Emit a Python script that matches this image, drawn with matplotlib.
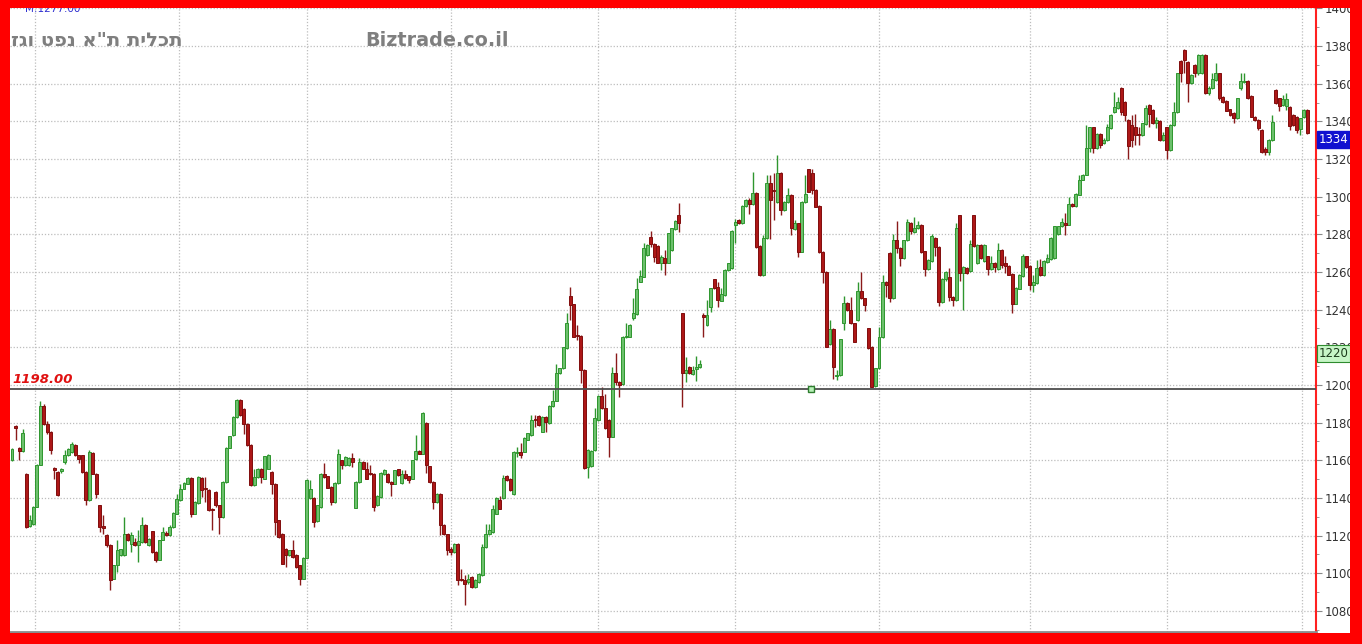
import numpy as np
import matplotlib
matplotlib.use("Agg")
import matplotlib.pyplot as plt
from matplotlib.patches import Rectangle

# OHLC, oldest first (one entry per candle)
opens = [
    1160, 1178, 1166.7, 1164.8, 1152.7, 1124.9, 1126, 1135.2, 1157.7, 1188.7,
    1179.5, 1175, 1156, 1154, 1154.3, 1159.1, 1162.7, 1164.4, 1168, 1162.7,
    1162.7, 1153.8, 1138.8, 1163.9, 1152.9, 1136.1, 1125, 1120.2, 1114.9, 1097.2,
    1104.2, 1109.6, 1109.6, 1121.1, 1115.8, 1116.6, 1114.9, 1116.6, 1125.8, 1114.9,
    1122.3, 1111.3, 1107.3, 1117.9, 1121.6, 1120.2, 1124.6, 1131.7, 1138.8, 1145,
    1147.6, 1150.8, 1131.7, 1137.2, 1150.8, 1145.5, 1144.1, 1134.3, 1143.2, 1136.1,
    1129.9, 1148.5, 1166.7, 1173.3, 1183, 1192.2, 1187.4, 1179.5, 1168, 1146.7,
    1151.1, 1155.6, 1150.3, 1155.6, 1153.8, 1147.3, 1128.1, 1121, 1113.1, 1109.6,
    1112.2, 1109.6, 1104.2,
    1097.2, 1108.3, 1140, 1140, 1127.8, 1135.2, 1152.9,
    1151.5, 1145.8, 1137.9, 1148, 1160, 1157.3, 1157.3, 1161.2, 1134.9, 1148.5,
    1159.1, 1155.6, 1153.2, 1152.9, 1136.1, 1140.5, 1152.6, 1152.9, 1148.5, 1147.6,
    1155.2, 1148, 1152.9, 1151.5, 1150.3, 1160.5, 1164.8, 1163.5, 1180, 1156.8,
    1148.5, 1137.9, 1142.3, 1125.5, 1120.7, 1113.1, 1111.3, 1115.8, 1097.2, 1096.3,
    1095.4, 1098.1, 1092.8, 1095.4, 1098.9, 1114, 1120.7, 1121.9, 1131.7, 1138.8,
    1140, 1151.5, 1150, 1142, 1163.8, 1164.6, 1164.6, 1171, 1173.4, 1181.6,
    1183.7, 1175.2, 1183.2, 1179.6, 1188.8, 1191.7, 1206.2, 1208.8, 1219.5, 1247.3,
    1242.8, 1226.5, 1226.2, 1208, 1156.6, 1157, 1165.5, 1181.4, 1194.2, 1187.6,
    1181.4, 1172.6, 1206.2, 1201.8, 1200.5, 1225.6, 1225.7, 1235.4, 1237.7, 1254.9,
    1257.5, 1269, 1278.8, 1274.9, 1273.8, 1265, 1267.3, 1265, 1271.7, 1282.7,
    1290.3, 1238, 1206.2, 1209.7, 1205.8, 1208.3, 1209.7,
    1236.8, 1231.9, 1241.6,
    1256.1, 1252.2, 1244.8, 1247.8, 1261, 1262, 1285, 1287.6, 1285.8, 1295,
    1298.2, 1296.1, 1302.1, 1273.8, 1258.4, 1277.9, 1307.1, 1303.5, 1297.3, 1312.7,
    1292.9, 1297.3, 1300.9, 1282.7, 1285.8, 1270.8, 1297.3, 1314.5, 1312.7, 1303.5,
    1295, 1270.8, 1260.2, 1221.8, 1229.6, 1204.5, 1205.3, 1232.7, 1243.7, 1239.8,
    1232.7, 1234.5, 1250.1, 1246, 1230.1, 1220.4, 1199.3, 1208.8, 1225.3, 1254.9,
    1270.1, 1246.2,
    1276.8, 1272.7, 1267.4, 1276.8, 1286, 1281.1, 1283.4, 1285.1,
    1271, 1261.6, 1265.7, 1278, 1273.3, 1243.9, 1256.3, 1257.3, 1246.7, 1245,
    1290.1, 1259.5, 1262.1, 1260.3, 1290.1, 1264.8, 1274.5, 1265.7, 1268.3, 1261.6,
    1264.8, 1261.6, 1271.9, 1264.8, 1263.4, 1259.1, 1243.2, 1251.2, 1257.7, 1268.3,
    1263.4, 1253.3, 1254.2, 1262.7, 1258.2, 1265.3, 1266.9, 1267.4, 1280.1, 1284.2,
    1286, 1285.1, 1296.3, 1294.9, 1301.1, 1309, 1311.7,
    1325.7, 1336.8, 1325.7,
    1333.3, 1328.5, 1330.2, 1336.4, 1345.1, 1347, 1357.5, 1350.4, 1340.7, 1338.1,
    1336.8, 1333.4, 1332.7, 1338.6, 1348.7, 1346, 1339.3, 1340.4, 1330.1, 1336.8,
    1324.8, 1338, 1345.1, 1372.2, 1377.9, 1371.7, 1360.5, 1369.9, 1365.5, 1365.5,
    1375.2, 1354.9, 1357.5, 1362, 1365.5, 1352.8, 1350.8, 1346.4, 1344.6, 1341.6,
    1357.5, 1360.8, 1361.6, 1353.4, 1342.5, 1340.7, 1335.4, 1325.1, 1323.9, 1330.1,
    1356.6, 1352.2, 1348.7, 1348, 1347.8, 1343.4, 1342.5, 1335.8, 1342.2, 1346,
]
highs = [
    1166.5, 1179, 1167, 1176.8, 1153, 1130.8, 1135.5, 1158, 1191.5, 1190,
    1181, 1175.5, 1156.5, 1154.5, 1156, 1165.3, 1166.5, 1169.7, 1168.5, 1163,
    1163, 1154.2, 1165.3, 1164.3, 1153.3, 1136.5, 1130.8, 1121, 1115.3, 1104.6,
    1117.5, 1113, 1129.9, 1121.5, 1122, 1118.5, 1122.8, 1129.9, 1126.2, 1118.8,
    1122.7, 1112, 1117.9, 1124.6, 1122.2, 1125.5, 1132.4, 1142.3, 1147.6, 1148.4,
    1151.2, 1151.2, 1138.3, 1151.4, 1151.2, 1151, 1144.5, 1134.7, 1143.6, 1136.5,
    1148.9, 1167, 1173, 1183.4, 1192.7, 1192.6, 1187.8, 1179.9, 1168.4, 1155.6,
    1156, 1156, 1162.5, 1163.1, 1154.2, 1147.7, 1128.5, 1121.4, 1113.5, 1112.6,
    1117.5, 1110, 1104.6,
    1108.7, 1149.8, 1149.4, 1140.4, 1136.5, 1153.3, 1158.6,
    1151.9, 1146.2, 1148.4, 1166.2, 1160.4, 1162.2, 1161.6, 1164, 1148.9, 1161,
    1159.5, 1159.1, 1157.5, 1153.3, 1141.3, 1153.6, 1155.6, 1153.3, 1148.9, 1155.1,
    1155.6, 1154.7, 1154.7, 1151.9, 1160.4, 1173.6, 1165.2, 1185.5, 1180.4, 1157.2,
    1148.9, 1142.7, 1142.7, 1125.9, 1121.1, 1114, 1116.2, 1116.2, 1102.5, 1099,
    1099.8, 1098.5, 1096.7, 1100.2, 1115.8, 1126.3, 1126.3, 1136.1, 1140.4, 1141,
    1152, 1152.4, 1150.4, 1165, 1167.3, 1169, 1172.1, 1174.7, 1184.1, 1184.1,
    1184.1, 1183.6, 1183.6, 1189.2, 1197.4, 1211.1, 1209.2, 1220.4, 1238, 1252.2,
    1243.2, 1231.9, 1226.6, 1208.4, 1165.8, 1165.4, 1187.6, 1194.6, 1199.1, 1195,
    1181.8, 1209.7, 1216.8, 1202.2, 1226.1, 1232.7, 1232.3, 1246, 1256.6, 1261,
    1275.3, 1274.7, 1281.6, 1275.3, 1274.2, 1269, 1271.7, 1280.9, 1283.6, 1287.5,
    1296.5, 1238.4, 1215, 1210.1, 1210, 1215.3, 1213.2,
    1238, 1245.1, 1251.7,
    1256.5, 1254.9, 1251.7, 1261.4, 1265, 1282.4, 1288.2, 1288, 1295.4, 1298.6,
    1299.2, 1312.9, 1302.5, 1274.2, 1279.6, 1311.5, 1311.5, 1312.4, 1322, 1313.1,
    1297.7, 1304.4, 1301.3, 1287.8, 1286.2, 1297.7, 1311.5, 1314.9, 1314.5, 1303.9,
    1295.4, 1271.2, 1260.6, 1234.5, 1230, 1207.7, 1224.6, 1247.3, 1244.1, 1246.9,
    1233.1, 1254.9, 1260.2, 1246.4, 1230.5, 1220.8, 1209.2, 1231, 1258.4, 1255.3,
    1270.5, 1280.4,
    1286.9, 1273.1, 1277.2, 1288.1, 1286.4, 1289.2, 1287.1, 1285.5,
    1271.4, 1266.9, 1280.4, 1278.4, 1273.7, 1256.7, 1260.5, 1262.1, 1247.1, 1286,
    1290.5, 1263.1, 1262.5, 1277.2, 1290.5, 1274.9, 1274.9, 1274.9, 1268.7, 1268.3,
    1265.2, 1275.4, 1272.3, 1268.3, 1263.8, 1259.5, 1251.9, 1259, 1269.7, 1268.7,
    1263.8, 1258.4, 1266.5, 1267, 1266.1, 1269.7, 1278.4, 1284.6, 1284.6, 1288.6,
    1291.3, 1299.8, 1296.7, 1302, 1311.7, 1312.1, 1338.2,
    1337.2, 1337.2, 1333.7,
    1333.7, 1331.1, 1338.6, 1343.8, 1355.8, 1353.1, 1358.4, 1350.8, 1341.1, 1343.4,
    1343.9, 1336.8, 1339.3, 1348.7, 1349.1, 1346.4, 1342.5, 1340.8, 1334.1, 1337.2,
    1338.4, 1350.4, 1365.8, 1372.6, 1378.3, 1372.1, 1365, 1370.3, 1375.7, 1375.6,
    1375.6, 1358.7, 1365.5, 1370.8, 1365.9, 1353.2, 1351.2, 1346.8, 1345, 1352.6,
    1365.8, 1365.8, 1362, 1353.8, 1342.9, 1341.1, 1335.8, 1326.5, 1330.5, 1343.4,
    1357, 1352.6, 1354, 1355.3, 1348.2, 1343.8, 1342.9, 1342, 1346.4, 1346.4,
]
lows = [
    1159.5, 1171, 1160, 1164.5, 1124, 1124.5, 1125.5, 1135, 1157.5, 1178.5,
    1174, 1163.5, 1150, 1141, 1153.5, 1158.2, 1162.3, 1164, 1162.3, 1158.6,
    1153.4, 1136, 1138.5, 1152.5, 1140.2, 1122, 1121, 1114.2, 1091, 1096.8,
    1100.6, 1109, 1109.2, 1117, 1111.5, 1114.4, 1106, 1116, 1116.2, 1114.5,
    1111, 1106, 1107, 1117.5, 1120, 1119.8, 1124.2, 1131.3, 1138.4, 1144.6,
    1147.2, 1130, 1131.3, 1136.8, 1140.5, 1138, 1133, 1122.8, 1135.2, 1121,
    1129.5, 1148.1, 1166.3, 1172.9, 1182.6, 1183.5, 1174.2, 1167.6, 1146.3, 1146.3,
    1150.7, 1147.8, 1149.9, 1155.2, 1142.3, 1120.2, 1118.9, 1104.7, 1103.4, 1109.2,
    1108.3, 1103, 1093.6,
    1096.8, 1107.9, 1139.6, 1124.6, 1127.4, 1134.8, 1150.7,
    1145.1, 1136.1, 1137.5, 1147.6, 1155.6, 1156.9, 1156.9, 1156.5, 1134.5, 1148.1,
    1155.2, 1149.9, 1152.2, 1133, 1135.7, 1140.1, 1152, 1148.1, 1140.9, 1147.2,
    1151.7, 1147.6, 1150.3, 1148, 1149.9, 1160.1, 1163.1, 1163.1, 1153.3, 1148.1,
    1134.3, 1137.5, 1120.2, 1120.3, 1109.6, 1109.6, 1110.9, 1093.6, 1095.9, 1083,
    1094.5, 1092.4, 1092.4, 1095, 1098.5, 1113.6, 1120.2, 1121.5, 1131.3, 1134,
    1139.6, 1148.8, 1143.6, 1141.6, 1162, 1161, 1164.2, 1170.6, 1173, 1177.9,
    1178.4, 1174.8, 1175.2, 1179.2, 1188.4, 1191.3, 1205.8, 1208.4, 1219.1, 1234.5,
    1225.3, 1223.9, 1201.2, 1155.3, 1150.4, 1156.6, 1165.1, 1181, 1187.2, 1176.6,
    1161.9, 1172.2, 1200.2, 1193.8, 1200.1, 1225.1, 1225.3, 1234.5, 1237.3, 1254.5,
    1257.1, 1268.6, 1273.3, 1265.4, 1264.6, 1261, 1258.4, 1264.6, 1271.3, 1282.3,
    1281, 1188.5, 1201.8, 1205.8, 1205.3, 1202.2, 1208.8,
    1225.3, 1231.5, 1239,
    1250.9, 1241.6, 1244.4, 1247.4, 1260.6, 1261.6, 1275.2, 1285.4, 1285.4, 1294.6,
    1291, 1295.7, 1273, 1258, 1258, 1277.5, 1277.6, 1287.6, 1296.9, 1290.3,
    1292.5, 1296.9, 1279.6, 1282.3, 1268.1, 1270.4, 1296.9, 1302.3, 1301.6, 1294.3,
    1269.9, 1254, 1220, 1221.4, 1203, 1202.6, 1204.9, 1229.2, 1239.4, 1232.3,
    1222.6, 1234.1, 1245.6, 1239.5, 1219.1, 1198.7, 1198.9, 1208.4, 1224.9, 1246.9,
    1244, 1245.8,
    1270.1, 1263, 1267, 1276.4, 1280.4, 1280.7, 1283, 1270,
    1257.7, 1261.2, 1265.3, 1268.3, 1241.8, 1243.5, 1255.2, 1244.4, 1241.8, 1244.6,
    1255, 1240, 1259.1, 1259.9, 1273.2, 1264.4, 1267, 1265.3, 1258.2, 1261.2,
    1260, 1261.2, 1262.1, 1259.5, 1258.2, 1238.2, 1242.8, 1250.8, 1257.3, 1262.3,
    1250.3, 1249.6, 1253.8, 1257.8, 1257.8, 1264.9, 1266.5, 1267, 1279.7, 1283.8,
    1279.8, 1284.7, 1294.5, 1294.5, 1300.7, 1308.6, 1311.3,
    1323.7, 1323, 1325.3,
    1325.7, 1328, 1329.8, 1336, 1344.2, 1346.6, 1343.4, 1340, 1319.8, 1326.5,
    1327.6, 1327.6, 1332.3, 1338.2, 1336.8, 1338.5, 1336.4, 1329.7, 1329.7, 1319.8,
    1324.4, 1337.6, 1344.7, 1361, 1365.8, 1350.4, 1360.1, 1363.8, 1364.6, 1365.1,
    1354.5, 1354, 1357.1, 1361.6, 1351.3, 1349.6, 1345.3, 1343, 1339, 1341.2,
    1356.6, 1360.4, 1351.8, 1342.1, 1340.3, 1335.4, 1323, 1322, 1322, 1329.7,
    1349.2, 1345.7, 1348.3, 1346.1, 1335.4, 1337.7, 1333.6, 1332.7, 1341.8, 1333.2,
]
closes = [
    1166, 1177, 1165, 1174.5, 1124.6, 1128.1, 1135.2, 1157.7, 1188.7, 1179.5,
    1175, 1165.3, 1154.7, 1141.4, 1155.3, 1162.7, 1166.2, 1168.8, 1162.7, 1160.9,
    1153.8, 1138.8, 1164.4, 1152.9, 1142.3, 1124.6, 1124.2, 1114.9, 1096.3, 1104.2,
    1112.2, 1112.7, 1121.1, 1117.5, 1120.2, 1114.9, 1117, 1125.8, 1116.6, 1118.4,
    1111.3, 1107.3, 1117.5, 1121.9, 1120.5, 1124.6, 1132, 1139.6, 1145, 1148,
    1150.8, 1131.7, 1137.9, 1151.1, 1144.1, 1144.5, 1133.4, 1133.4, 1136.1, 1129.9,
    1148.5, 1166.7, 1172.7, 1183, 1192.2, 1183.9, 1179.5, 1168, 1146.7, 1151.1,
    1155.6, 1151.1, 1162.1, 1162.7, 1147.6, 1127.3, 1119.3, 1105.1, 1109.6, 1112.2,
    1108.7, 1103.4, 1097.2,
    1108.3, 1149.4, 1145, 1127.3, 1136.1, 1152.9, 1151.1,
    1145.5, 1137.9, 1148, 1163.5, 1157.3, 1161.8, 1161.2, 1159.1, 1148.5, 1159.1,
    1155.6, 1150.3, 1152.9, 1135.2, 1140.9, 1153.2, 1154.7, 1148.5, 1147.6, 1154.7,
    1152.1, 1152.9, 1150.8, 1149.7, 1160, 1164.8, 1163.5, 1185.1, 1157.3, 1148.5,
    1137.9, 1142.3, 1125.5, 1120.7, 1112.2, 1111.3, 1115.8, 1096.3, 1096.3, 1094.5,
    1097.2, 1092.8, 1096.3, 1099.8, 1114, 1121.1, 1122.8, 1134.3, 1140, 1134.3,
    1150.4, 1149.6, 1144, 1164.6, 1164.4, 1162.8, 1171.7, 1174.3, 1181.4, 1181.2,
    1178.8, 1183.2, 1180.2, 1188.8, 1191.7, 1206.2, 1208.8, 1220, 1232.7, 1242.5,
    1225.7, 1226, 1208, 1155.7, 1165.4, 1165, 1182.3, 1194.2, 1187.6, 1177,
    1172.6, 1206.2, 1201.8, 1200, 1225.7, 1226.2, 1231.9, 1238, 1250.8, 1257.9,
    1272.6, 1274.3, 1274.9, 1268.1, 1265, 1268.1, 1265, 1280.5, 1283.2, 1287.1,
    1285.8, 1206.2, 1208, 1206.2, 1208, 1209.7, 1211.1,
    1236.3, 1237.2, 1251.3,
    1251.3, 1245.1, 1248.3, 1261, 1264.6, 1282, 1286.7, 1285.8, 1295, 1298.2,
    1296.1, 1302.1, 1273.4, 1258.4, 1277.9, 1307.1, 1298.2, 1303, 1312.7, 1292.9,
    1297.3, 1300.9, 1283.2, 1285.8, 1270.8, 1297.3, 1301.4, 1302.7, 1303.5, 1294.7,
    1270.8, 1260.2, 1220.4, 1229.6, 1209.7, 1205.2, 1224.2, 1243.7, 1239.8, 1232.7,
    1223, 1250.1, 1246, 1242.5, 1219.5, 1199.1, 1208.8, 1225.3, 1254.9, 1253.1,
    1246.2, 1277.2,
    1272.7, 1267.4, 1276.8, 1286.4, 1281.6, 1283.4, 1285.1, 1270.4,
    1261.6, 1266.5, 1278.9, 1273.3, 1243.9, 1256.3, 1259.8, 1246.7, 1245, 1283.4,
    1259.5, 1262.7, 1259.5, 1275, 1273.6, 1274.5, 1267.4, 1274.5, 1261.6, 1264.8,
    1262.7, 1271.9, 1263.9, 1263, 1258.6, 1243.2, 1251.5, 1258.6, 1268.3, 1262.7,
    1253.3, 1254.5, 1262.1, 1258.2, 1265.7, 1267.4, 1278, 1284.2, 1284.2, 1286.3,
    1285.1, 1296.3, 1294.9, 1301.6, 1309, 1311.7, 1325.8,
    1336.8, 1325.7, 1333.3,
    1327.4, 1330.2, 1336.8, 1343.4, 1347.8, 1350.4, 1345.1, 1343.4, 1326.9, 1330.1,
    1332.7, 1332.8, 1338.9, 1346.9, 1343.9, 1338.9, 1340.7, 1330.1, 1332.7, 1324.8,
    1338, 1345.1, 1365.5, 1365.8, 1372.6, 1360.5, 1364.6, 1365.5, 1375.2, 1375.2,
    1354.9, 1357.5, 1362.3, 1365.5, 1352.2, 1350.4, 1345.7, 1343.4, 1341.6, 1352.2,
    1361.6, 1361.4, 1352.2, 1342.5, 1340.7, 1336.3, 1323.9, 1323.9, 1330.1, 1339.8,
    1349.6, 1348.1, 1351.7, 1351.7, 1337.5, 1338.1, 1335.4, 1341.6, 1346, 1333.6,
]

y_ticks = list(range(1080, 1401, 20))
month_lines = [6.5, 47.5, 84, 125, 167, 206, 247, 290, 329, 367.5]  # vertical grid, candle index
ref_level = 1198.0
ref_label = "1198.00"
marker_idx = 227.6
last_price = 1334
last_price_pos = 1330.5
green_tag = 1220
green_tag_pos = 1216.8
title_he = "תכלית ת\"א נפט וגז"
site = "Biztrade.co.il"
top_info = "M:1277.00"

W, H = 1362, 644
fig = plt.figure(figsize=(W / 100, H / 100), dpi=100)
fig.patch.set_facecolor("white")

ax = fig.add_axes([10 / W, 12 / H, 1306 / W, 624 / H])
ax.set_facecolor("white")

o = np.array(opens); h = np.array(highs); l = np.array(lows); c = np.array(closes)
x = np.arange(len(o))
up = c >= o

g_fill, g_edge = "#6cc06c", "#2e962e"
r_fill, r_edge = "#ad1717", "#800d0d"

ax.vlines(x[up], l[up], h[up], color=g_edge, lw=1, zorder=3)
ax.vlines(x[~up], l[~up], h[~up], color="#8a1a1a", lw=1, zorder=3)
body_lo = np.minimum(o, c)
body_h = np.maximum(np.abs(c - o), 0.6)
ax.bar(x[up], body_h[up], bottom=body_lo[up], width=0.85, color=g_fill,
       edgecolor=g_edge, linewidth=0.7, zorder=4)
ax.bar(x[~up], body_h[~up], bottom=body_lo[~up], width=0.85, color=r_fill,
       edgecolor=r_edge, linewidth=0.7, zorder=4)

ax.set_xlim(-0.57, 371.5)
ax.set_ylim(1068.8, 1400.2)

# grid
for v in y_ticks:
    ax.axhline(v, color="#bdbdbd", lw=0.9, ls=(0, (1, 1.5)), zorder=1)
for m in month_lines:
    ax.axvline(m, color="#bdbdbd", lw=0.9, ls=(0, (1, 1.5)), zorder=1)

# reference level
ax.axhline(ref_level, color="#4d4d4d", lw=1.3, zorder=5)
ax.text(0.0, ref_level + 1.2, ref_label, color="#e01010", fontsize=9.5,
        fontstyle="italic", fontweight="bold", va="bottom", ha="left", zorder=6)
ax.plot([marker_idx], [ref_level], marker="s", ms=5, mfc="#b8f0b8",
        mec="#2e7d2e", mew=1, zorder=7)

# axis styling
ax.set_xticks([])
ax.yaxis.tick_right()
ax.set_yticks(y_ticks)
ax.set_yticks(list(range(1070, 1401, 10)), minor=True)
ax.tick_params(axis="y", which="major", length=4, color="#888888", labelsize=8.5,
               labelcolor="#333333", pad=2)
ax.tick_params(axis="y", which="minor", length=2, color="#888888")
for s in ["left", "top"]:
    ax.spines[s].set_visible(False)
ax.spines["right"].set_color("#ff2020")
ax.spines["right"].set_linewidth(1.5)
ax.spines["bottom"].set_color("#8c8c8c")
ax.spines["bottom"].set_linewidth(2)

# price tags on the right axis (the green one sits over the 1220 tick label, as in the source)
ax.text(1.002, last_price_pos, str(last_price), transform=ax.get_yaxis_transform(),
        color="white", fontsize=8.5, va="center", ha="left",
        bbox=dict(boxstyle="square,pad=0.15", fc="#1010d0", ec="#1010d0"), zorder=8, clip_on=False)
ax.text(1.002, green_tag_pos, str(green_tag), transform=ax.get_yaxis_transform(),
        color="#1a3a1a", fontsize=8.5, va="center", ha="left",
        bbox=dict(boxstyle="square,pad=0.15", fc="#c6f5c6", ec="#2e8b2e", lw=0.8), zorder=8, clip_on=False)

# header texts (Hebrew given in visual order, matplotlib has no bidi)
fig.text(182 / W, 1 - 40 / H, title_he[::-1], color="#7f7f7f", fontsize=14,
         fontweight="bold", ha="right", va="center", family="DejaVu Sans")
fig.text(365 / W, 1 - 40 / H, site, color="#7f7f7f", fontsize=13.8,
         fontweight="bold", ha="left", va="center", family="DejaVu Sans")
fig.text(25 / W, 1 - 9 / H, top_info, color="#3030d0", fontsize=7.5,
         ha="left", va="center")

# red frame drawn last so it hides overflow
for (x0, y0, w, hh) in [(0, 0, 10, H), (1350, 0, 12, H), (0, 0, W, 8), (0, 633, W, 11)]:
    fig.patches.append(Rectangle((x0 / W, 1 - (y0 + hh) / H), w / W, hh / H,
                                 transform=fig.transFigure, fc="#ff0000", ec="none",
                                 zorder=20))

fig.savefig("out.png", dpi=100, facecolor=fig.get_facecolor())
